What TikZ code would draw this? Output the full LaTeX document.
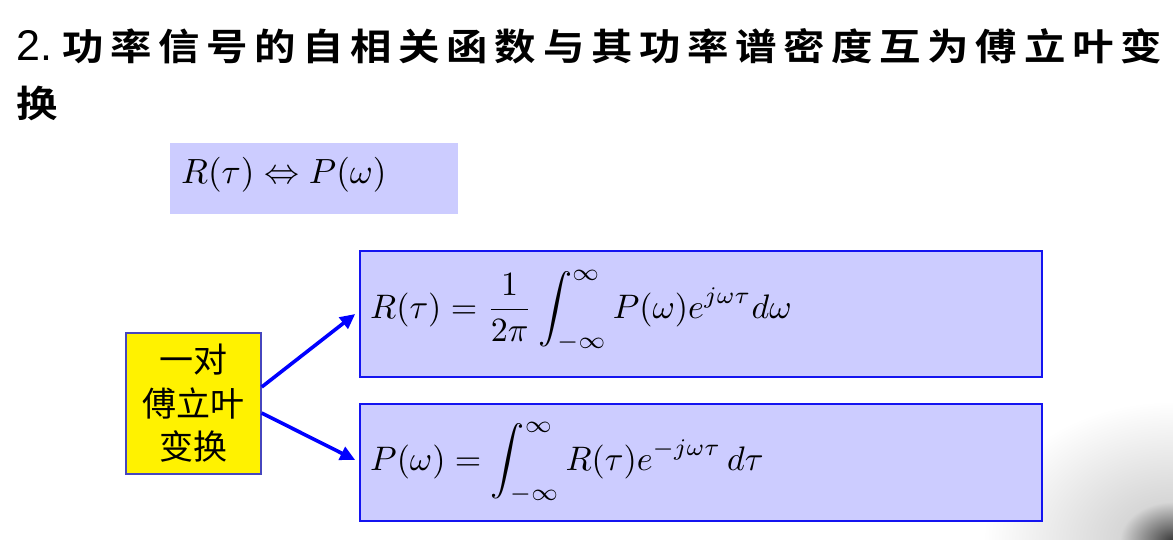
\documentclass[tikz,border=0pt]{standalone}
\usepackage{fontspec}
\usepackage{amsmath}
\usepackage{graphicx}
\usetikzlibrary{arrows.meta}
\newfontfamily\titlelatin{Liberation Sans}
\newfontfamily\titlecjk[FakeStretch=1.12,LetterSpace=18]{Noto Sans CJK SC Bold}
\newfontfamily\bodycjk{Noto Sans CJK SC}
\definecolor{boxfill}{RGB}{204,204,255}
\definecolor{boxline}{RGB}{20,20,240}
\definecolor{yelline}{RGB}{70,70,190}
\definecolor{arrowblue}{RGB}{0,0,255}
\pgfdeclareradialshading{cornershadow}{\pgfpoint{0bp}{0bp}}{color(0bp)=(black!78); color(2.5bp)=(black!55); color(7bp)=(black!16); color(25bp)=(white); color(50bp)=(white)}
\tikzset{
  formbox/.style={draw=boxline, fill=boxfill, line width=1.6pt, inner sep=0, minimum width=682pt},
  smallbox/.style={fill=boxfill, draw=none, inner sep=0, minimum width=288pt, minimum height=71pt},
  yelbox/.style={draw=yelline, fill=yellow, line width=1.4pt, inner sep=0, minimum width=135pt, minimum height=141pt,
    align=center, font=\bodycjk\fontsize{34}{43.5}\selectfont},
  formula/.style={anchor=base west, inner sep=0},
  bluearrow/.style={draw=arrowblue, line width=3.6pt, -{Triangle[length=15pt,width=14pt]}},
}
\begin{document}
\begin{tikzpicture}[x=1pt,y=-1pt]
\useasboundingbox (0,0) rectangle (1173,539);
\fill[white] (0,0) rectangle (1173,539);
\begin{scope}
\clip (0,0) rectangle (1173,539);
\shade[shading=cornershadow] (1173,541) ellipse (190pt and 140pt);
\end{scope}
% title
\node[anchor=base west, inner sep=0] (t1) at (16,60)
  {\titlelatin\fontsize{43}{50}\selectfont 2.\hspace{10pt}\titlecjk\fontsize{37}{42}\selectfont 功率信号的自相关函数与其功率谱密度互为傅立叶变};
\node[anchor=base west, inner sep=0] (t2) at (16,117)
  {\titlecjk\fontsize{37}{42}\selectfont 换};
% small box
\node[smallbox] (sb) at (314,178.5) {};
\node[formula] (sf) at (181,183) {\scalebox{3.5}{$R(\tau)\Leftrightarrow P(\omega)$}};
% formula boxes
\node[formbox, minimum height=126pt] (top) at (701,314) {};
\node[formbox, minimum height=117pt] (bot) at (701,462.5) {};
\node[formula] (f1) at (370,318) {\scalebox{3.4}{$R(\tau)=\dfrac{1}{2\pi}\displaystyle\int_{-\infty}^{\infty}P(\omega)e^{j\omega\tau}d\omega$}};
\node[formula] (f2) at (370,470) {\scalebox{3.4}{$P(\omega)=\displaystyle\int_{-\infty}^{\infty}R(\tau)e^{-j\omega\tau}\,d\tau$}};
% yellow box
\node[yelbox] (yl) at (193.5,403.5) {一对\\傅立叶\\变换};
% arrows
\draw[bluearrow] ([yshift=16.5pt]yl.east) -- ([xshift=-4pt]top.west);
\draw[bluearrow] ([yshift=-9.5pt]yl.east) -- ([xshift=-4pt,yshift=2.5pt]bot.west);
\end{tikzpicture}
\end{document}
